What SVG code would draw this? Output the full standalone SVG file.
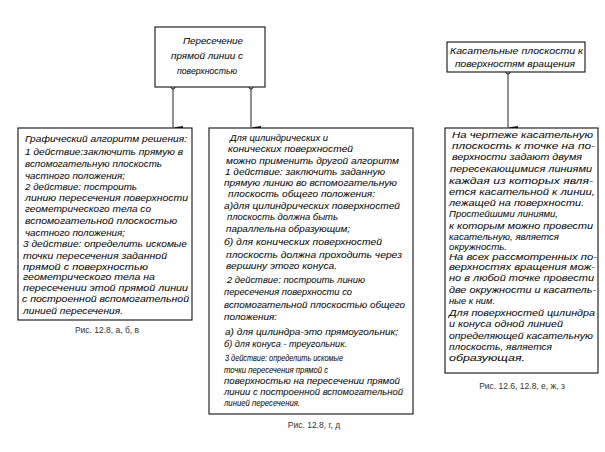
<svg xmlns="http://www.w3.org/2000/svg" width="605" height="452" viewBox="0 0 605 452">
<defs>
<style>
.box{fill:#fff;stroke:#111;stroke-width:1.1}
.t{font-family:"Liberation Sans","DejaVu Sans",sans-serif;font-style:italic;font-size:9.2px;fill:#000}
.cap{font-family:"Liberation Sans","DejaVu Sans",sans-serif;font-size:8.5px;fill:#333;text-anchor:middle}
.con{stroke:#222;stroke-width:1;fill:none;marker-end:url(#arr)}
.dot{fill:#fff;stroke:#111;stroke-width:1}
</style>
<marker id="arr" markerWidth="6" markerHeight="10" refX="3" refY="10" orient="auto-start-reverse" markerUnits="userSpaceOnUse" viewBox="0 0 6 10">
<path d="M1.5,0 L4.5,0 L3,10 Z" fill="#111"/>
</marker>
</defs>
<rect width="605" height="452" fill="#fff"/>

<g id="connectors">
<path class="con" d="M173,87 V127.5"/>
<path class="con" d="M251,87 V127.5"/>
<path class="con" d="M508,72 V127.5"/>
<circle class="dot" cx="173" cy="87" r="2"/>
<circle class="dot" cx="251" cy="87" r="2"/>
<circle class="dot" cx="508" cy="72" r="2"/>
</g>

<g id="node-intersection">
<rect class="box" x="155" y="27" width="110" height="60"/>
<text class="t" x="183" y="44" textLength="60" lengthAdjust="spacingAndGlyphs">Пересечение</text>
<text class="t" x="171" y="59" textLength="72" lengthAdjust="spacingAndGlyphs">прямой линии с</text>
<text class="t" x="177" y="74" textLength="60" lengthAdjust="spacingAndGlyphs">поверхностью</text>
</g>

<g id="node-tangent">
<rect class="box" x="447" y="42" width="138" height="30"/>
<text class="t" x="450" y="54" textLength="133" lengthAdjust="spacingAndGlyphs">Касательные плоскости к</text>
<text class="t" x="455" y="67" textLength="120" lengthAdjust="spacingAndGlyphs">поверхностям вращения</text>
</g>

<g id="node-graphic">
<rect class="box" x="18" y="128" width="174" height="192"/>
<text class="t" x="25" y="142" textLength="162" lengthAdjust="spacingAndGlyphs">Графический алгоритм решения:</text>
<text class="t" x="25" y="155" textLength="158" lengthAdjust="spacingAndGlyphs">1 действие:заключить прямую в</text>
<text class="t" x="25" y="167" textLength="137" lengthAdjust="spacingAndGlyphs">вспомогательную плоскость</text>
<text class="t" x="25" y="179" textLength="100" lengthAdjust="spacingAndGlyphs">частного положения;</text>
<text class="t" x="25" y="190" textLength="112" lengthAdjust="spacingAndGlyphs">2 действие: построить</text>
<text class="t" x="25" y="200.5" textLength="163" lengthAdjust="spacingAndGlyphs">линию пересечения поверхности</text>
<text class="t" x="25" y="211.5" textLength="126" lengthAdjust="spacingAndGlyphs">геометрического тела со</text>
<text class="t" x="25" y="224" textLength="152" lengthAdjust="spacingAndGlyphs">вспомогательной плоскостью</text>
<text class="t" x="25" y="235.5" textLength="100" lengthAdjust="spacingAndGlyphs">частного положения;</text>
<text class="t" x="23" y="247" textLength="164" lengthAdjust="spacingAndGlyphs">3 действие: определить искомые</text>
<text class="t" x="23" y="259" textLength="144" lengthAdjust="spacingAndGlyphs">точки пересечения заданной</text>
<text class="t" x="23" y="269.5" textLength="125" lengthAdjust="spacingAndGlyphs">прямой с поверхностью</text>
<text class="t" x="23" y="280" textLength="132" lengthAdjust="spacingAndGlyphs">геометрического тела на</text>
<text class="t" x="23" y="291" textLength="165" lengthAdjust="spacingAndGlyphs">пересечении этой прямой линии</text>
<text class="t" x="22" y="301.5" textLength="167" lengthAdjust="spacingAndGlyphs">с построенной вспомогательной</text>
<text class="t" x="23" y="314" textLength="100" lengthAdjust="spacingAndGlyphs">линией пересечения.</text>
</g>
<text class="cap" x="107" y="333">Рис. 12.8, а, б, в</text>

<g id="node-cylinder-cone">
<rect class="box" x="209" y="128" width="204" height="286"/>
<text class="t" x="230" y="141" textLength="98" lengthAdjust="spacingAndGlyphs">Для цилиндрических и</text>
<text class="t" x="228" y="152" textLength="125" lengthAdjust="spacingAndGlyphs">конических поверхностей</text>
<text class="t" x="226" y="164" textLength="173" lengthAdjust="spacingAndGlyphs">можно применить другой алгоритм</text>
<text class="t" x="225" y="175" textLength="160" lengthAdjust="spacingAndGlyphs">1 действие: заключить заданную</text>
<text class="t" x="224" y="186" textLength="173" lengthAdjust="spacingAndGlyphs">прямую линию во вспомогательную</text>
<text class="t" x="228" y="197" textLength="147" lengthAdjust="spacingAndGlyphs">плоскость общего положения:</text>
<text class="t" x="224" y="209" textLength="176" lengthAdjust="spacingAndGlyphs">а)для цилиндрических поверхностей</text>
<text class="t" x="227" y="220" textLength="111" lengthAdjust="spacingAndGlyphs">плоскость должна быть</text>
<text class="t" x="226" y="232" textLength="124" lengthAdjust="spacingAndGlyphs">параллельна образующим;</text>
<text class="t" x="224" y="245" textLength="158" lengthAdjust="spacingAndGlyphs">б) для конических поверхностей</text>
<text class="t" x="226" y="258" textLength="176" lengthAdjust="spacingAndGlyphs">плоскость должна проходить через</text>
<text class="t" x="226" y="268.5" textLength="111" lengthAdjust="spacingAndGlyphs">вершину этого конуса.</text>
<text class="t" x="227" y="283" textLength="138" lengthAdjust="spacingAndGlyphs">2 действие: построить линию</text>
<text class="t" x="224" y="295" textLength="128" lengthAdjust="spacingAndGlyphs">пересечения поверхности со</text>
<text class="t" x="224" y="308" textLength="181" lengthAdjust="spacingAndGlyphs">вспомогательной плоскостью общего</text>
<text class="t" x="224" y="320" textLength="53" lengthAdjust="spacingAndGlyphs">положения:</text>
<text class="t" x="225" y="335" textLength="173" lengthAdjust="spacingAndGlyphs">а) для цилиндра-это прямоугольник;</text>
<text class="t" x="224" y="347" textLength="123" lengthAdjust="spacingAndGlyphs">б) для конуса  - треугольник.</text>
<text class="t" x="225" y="361" textLength="118" lengthAdjust="spacingAndGlyphs">3 действие: определить искомые</text>
<text class="t" x="224" y="373" textLength="104" lengthAdjust="spacingAndGlyphs">точки пересечения прямой с</text>
<text class="t" x="224" y="384" textLength="176" lengthAdjust="spacingAndGlyphs">поверхностью на пересечении прямой</text>
<text class="t" x="224" y="395" textLength="179" lengthAdjust="spacingAndGlyphs">линии с построенной вспомогательной</text>
<text class="t" x="224" y="405.5" textLength="76" lengthAdjust="spacingAndGlyphs">линией пересечения.</text>
</g>
<text class="cap" x="314" y="428">Рис. 12.8, г, д</text>

<g id="node-tangent-text">
<rect class="box" x="445" y="128" width="153" height="245"/>
<text class="t" x="452" y="138" textLength="141" lengthAdjust="spacingAndGlyphs">На чертеже касательную</text>
<text class="t" x="452" y="149" textLength="143" lengthAdjust="spacingAndGlyphs">плоскость к точке на по-</text>
<text class="t" x="452" y="160" textLength="130" lengthAdjust="spacingAndGlyphs">верхности задают двумя</text>
<text class="t" x="450" y="172" textLength="142" lengthAdjust="spacingAndGlyphs">пересекающимися линиями</text>
<text class="t" x="449" y="184" textLength="144" lengthAdjust="spacingAndGlyphs">каждая из которых явля-</text>
<text class="t" x="449" y="195" textLength="146" lengthAdjust="spacingAndGlyphs">ется касательной к линии,</text>
<text class="t" x="449" y="205.5" textLength="135" lengthAdjust="spacingAndGlyphs">лежащей на поверхности.</text>
<text class="t" x="449" y="217" textLength="109" lengthAdjust="spacingAndGlyphs">Простейшими линиями,</text>
<text class="t" x="449" y="229" textLength="144" lengthAdjust="spacingAndGlyphs">к которым можно провести</text>
<text class="t" x="449" y="239.5" textLength="110" lengthAdjust="spacingAndGlyphs">касательную, является</text>
<text class="t" x="449" y="249.5" textLength="58" lengthAdjust="spacingAndGlyphs">окружность.</text>
<text class="t" x="449" y="259.5" textLength="148" lengthAdjust="spacingAndGlyphs">На всех рассмотренных по-</text>
<text class="t" x="449" y="270" textLength="146" lengthAdjust="spacingAndGlyphs">верхностях вращения мож-</text>
<text class="t" x="449" y="280.5" textLength="145" lengthAdjust="spacingAndGlyphs">но в любой точке провести</text>
<text class="t" x="449" y="293" textLength="147" lengthAdjust="spacingAndGlyphs">две окружности и касатель-</text>
<text class="t" x="449" y="304" textLength="46" lengthAdjust="spacingAndGlyphs">ные к ним.</text>
<text class="t" x="449" y="316" textLength="146" lengthAdjust="spacingAndGlyphs">Для поверхностей цилиндра</text>
<text class="t" x="449" y="326.5" textLength="114" lengthAdjust="spacingAndGlyphs">и конуса одной линией</text>
<text class="t" x="449" y="339" textLength="144" lengthAdjust="spacingAndGlyphs">определяющей касательную</text>
<text class="t" x="449" y="350" textLength="103" lengthAdjust="spacingAndGlyphs">плоскость, является</text>
<text class="t" x="449" y="361" textLength="76" lengthAdjust="spacingAndGlyphs">образующая.</text>
</g>
<text class="cap" x="522" y="389">Рис. 12.6, 12.8, е, ж, з</text>
</svg>
